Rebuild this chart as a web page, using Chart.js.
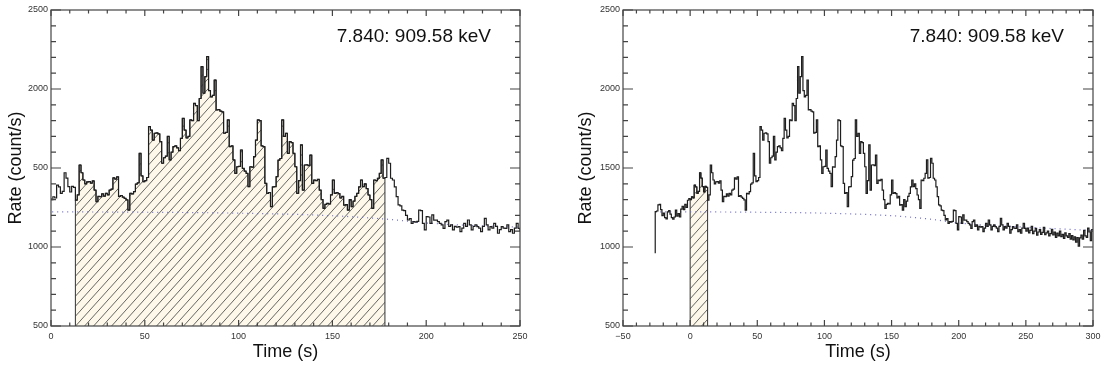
<!DOCTYPE html>
<html>
<head>
<meta charset="utf-8">
<title>Light curve 7.840: 909.58 keV</title>
<script src="https://cdn.jsdelivr.net/npm/chart.js@4.4.1/dist/chart.umd.min.js"></script>
<style>
  body { margin: 0; background: #fff; }
  .panel { position: absolute; top: 0; }
  #left { left: 0; }
  #right { left: 554px; }
</style>
</head>
<body>
<canvas id="left" class="panel" width="554" height="370"></canvas>
<canvas id="right" class="panel" width="554" height="370"></canvas>
<script>
// light curve, 1 s bins starting at t0 (values in count/s)
const t0 = -26;
const binWidth = 1;
const firstEdge = 960; // level where the curve starts at the first edge
const rate = [
  1224, 1228, 1266, 1270, 1236, 1198, 1214, 1186, 1178, 1222,
  1230, 1208, 1186, 1176, 1190, 1234, 1196, 1212, 1190, 1240,
  1258, 1236, 1270, 1250, 1296, 1306, 1300, 1318, 1310, 1392,
  1380, 1340, 1352, 1470, 1436, 1382, 1348, 1384, 1378, 1297,
  1330, 1519, 1470, 1424, 1400, 1412, 1414, 1404, 1418, 1360,
  1287, 1320, 1318, 1336, 1322, 1340, 1330, 1360, 1366, 1438,
  1430, 1444, 1320, 1326, 1316, 1308, 1298, 1234, 1340, 1336,
  1350, 1398, 1406, 1593, 1450, 1413, 1420, 1440, 1762, 1740,
  1677, 1720, 1722, 1716, 1667, 1530, 1565, 1575, 1700, 1551,
  1600, 1635, 1640, 1628, 1610, 1688, 1814, 1740, 1690, 1700,
  1804, 1800, 1909, 1895, 1800, 1940, 2141, 1973, 2078, 2205,
  1990, 1950, 1960, 2057, 1867, 1870, 1860, 1855, 1720, 1725,
  1804, 1635, 1640, 1551, 1466, 1508, 1510, 1614, 1497, 1480,
  1466, 1382, 1508, 1505, 1572, 1677, 1804, 1800, 1640, 1635,
  1403, 1340, 1345, 1255, 1380, 1382, 1445, 1550, 1560, 1804,
  1700, 1720, 1593, 1667, 1660, 1593, 1508, 1340, 1420, 1646,
  1360, 1519, 1520, 1515, 1582, 1403, 1424, 1420, 1428, 1360,
  1300, 1245, 1270, 1276, 1272, 1330, 1424, 1340, 1345, 1338,
  1310, 1320, 1265, 1268, 1234, 1300, 1255, 1290, 1320, 1340,
  1380, 1424, 1382, 1400, 1370, 1329, 1300, 1245, 1424, 1420,
  1435, 1466, 1551, 1435, 1440, 1561, 1530, 1435, 1424, 1380,
  1319, 1266, 1260, 1234, 1230, 1200, 1171, 1180, 1150, 1160,
  1158, 1162, 1234, 1230, 1150, 1108, 1192, 1190, 1150, 1203,
  1170, 1170, 1160, 1150, 1140, 1118, 1160, 1170, 1130, 1140,
  1108, 1130, 1125, 1129, 1097, 1120, 1150, 1130, 1171, 1140,
  1108, 1130, 1140, 1129, 1120, 1097, 1130, 1181, 1140, 1108,
  1129, 1120, 1150, 1130, 1087, 1110, 1129, 1120, 1118, 1140,
  1097, 1110, 1087, 1120, 1150, 1118, 1100, 1120, 1090, 1105,
  1130, 1085, 1100, 1118, 1075, 1095, 1110, 1080, 1092, 1125,
  1078, 1090, 1100, 1070, 1085, 1112, 1076, 1095, 1060, 1088,
  1070, 1100, 1066, 1080, 1055, 1090, 1070, 1060, 1085, 1050,
  1072, 1045, 1065, 1030, 1060, 1005, 1058, 1075, 1050, 1105,
  1070, 1060, 1120, 1095, 1040, 1110
];

// background model (dotted)
const bgTime = [-26, 0, 50, 100, 150, 180, 200, 250, 300];
const bgRate = [1222, 1222, 1220, 1214, 1198, 1175, 1152, 1125, 1105];

// hatched intervals (s)
const leftHatch = [13, 178];
const rightHatch = [0, 13];

// axes
const yTicks = [500, 1000, 1500, 2000, 2500];
const leftYLabels = ["500", "1000", "500", "2000", "2500"];
const rightYLabels = ["500", "1000", "1500", "2000", "2500"];
const leftXTicks = [0, 50, 100, 150, 200, 250];
const leftXLabels = ["0", "50", "100", "150", "200", "250"];
const rightXTicks = [-50, 0, 50, 100, 150, 200, 250, 300];
const rightXLabels = ["\u221250", "0", "50", "100", "150", "200", "250", "300"];

const lineLabel = "7.840: 909.58 keV";
const FONT = '"Liberation Sans", Arial, sans-serif';

function curvePoints() {
  const pts = [{ x: t0, y: firstEdge }];
  rate.forEach((r, i) => pts.push({ x: t0 + i * binWidth, y: r }));
  pts.push({ x: t0 + rate.length * binWidth, y: rate[rate.length - 1] });
  return pts;
}

function hatchPoints(range, floor) {
  const pts = [{ x: range[0], y: floor }];
  rate.forEach((r, i) => {
    const t = t0 + i * binWidth;
    if (t >= range[0] && t < range[1]) pts.push({ x: t, y: r });
  });
  pts.push({ x: range[1], y: floor });
  return pts;
}

function hatchPattern() {
  const c = document.createElement("canvas");
  c.width = 9; c.height = 10;
  const g = c.getContext("2d");
  g.fillStyle = "#fdf8ea";
  g.fillRect(0, 0, 9, 10);
  g.strokeStyle = "#555";
  g.lineWidth = 0.9;
  g.beginPath();
  g.moveTo(0, 10); g.lineTo(9, 0);
  g.moveTo(-9, 10); g.lineTo(0, 0);
  g.moveTo(9, 10); g.lineTo(18, 0);
  g.stroke();
  return g.createPattern(c, "repeat");
}

const frameTicks = {
  id: "frameTicks",
  afterDatasetsDraw(chart) {
    const { ctx, chartArea: a, scales: { x, y } } = chart;
    ctx.save();
    ctx.strokeStyle = "#444";
    ctx.lineWidth = 1.2;
    ctx.beginPath();
    for (let v = Math.ceil(x.min / 10) * 10; v <= x.max; v += 10) {
      const px = x.getPixelForValue(v);
      const len = v % 50 === 0 ? 6 : 3.5;
      ctx.moveTo(px, a.bottom); ctx.lineTo(px, a.bottom - len);
      ctx.moveTo(px, a.top); ctx.lineTo(px, a.top + len);
    }
    for (let v = y.min; v <= y.max; v += 100) {
      const py = y.getPixelForValue(v);
      const len = v % 500 === 0 ? 10 : 5;
      ctx.moveTo(a.left, py); ctx.lineTo(a.left + len, py);
      ctx.moveTo(a.right, py); ctx.lineTo(a.right - len, py);
    }
    ctx.stroke();
    ctx.strokeRect(a.left, a.top, a.right - a.left, a.bottom - a.top);
    ctx.fillStyle = "#111";
    ctx.font = "19px " + FONT;
    ctx.textAlign = "right";
    ctx.textBaseline = "middle";
    ctx.fillText(lineLabel, a.right - 29, a.top + 27);
    ctx.restore();
  }
};

function drawPanel(id, cfg) {
  const tickFont = { family: FONT, size: 9 };
  return new Chart(document.getElementById(id), {
    type: "line",
    data: {
      datasets: [
        { data: curvePoints(), borderColor: "#1e1e1e", borderWidth: 1.2, stepped: true, pointRadius: 0, fill: false },
        { data: bgTime.map((t, i) => ({ x: t, y: bgRate[i] })), borderColor: "#6a6ac8", borderWidth: 1.2,
          borderDash: [1, 4], cubicInterpolationMode: "monotone", pointRadius: 0, fill: false },
        { data: hatchPoints(cfg.hatch, yTicks[0]), borderColor: "#333", borderWidth: 1, stepped: true,
          pointRadius: 0, backgroundColor: hatchPattern(), fill: "start" }
      ]
    },
    options: {
      responsive: false,
      animation: false,
      events: [],
      layout: { padding: { left: cfg.padLeft, right: cfg.padRight, top: 10, bottom: 0 } },
      plugins: { legend: { display: false }, tooltip: { enabled: false } },
      scales: {
        x: {
          type: "linear",
          min: cfg.xTicks[0],
          max: cfg.xTicks[cfg.xTicks.length - 1],
          afterBuildTicks: s => { s.ticks = cfg.xTicks.map(v => ({ value: v })); },
          afterFit: s => { s.height = 44; },
          ticks: { callback: (v, i) => cfg.xLabels[i], font: tickFont, color: "#333", padding: 5, maxRotation: 0, autoSkip: false },
          grid: { display: false, drawTicks: false },
          border: { display: false },
          title: { display: true, text: "Time (s)", color: "#111", font: { family: FONT, size: 18 }, padding: { top: 0, bottom: 7 } }
        },
        y: {
          min: yTicks[0],
          max: yTicks[yTicks.length - 1],
          afterBuildTicks: s => { s.ticks = yTicks.map(v => ({ value: v })); },
          afterFit: s => { s.width = cfg.yWidth; },
          ticks: { callback: (v, i) => cfg.yLabels[i], font: tickFont, color: "#333", padding: 3, autoSkip: false },
          grid: { display: false, drawTicks: false },
          border: { display: false },
          title: { display: true, text: "Rate (count/s)", color: "#111", font: { family: FONT, size: 18 }, padding: { top: 5, bottom: 0 } }
        }
      }
    },
    plugins: [frameTicks]
  });
}

drawPanel("left", {
  xTicks: leftXTicks, xLabels: leftXLabels, yLabels: leftYLabels,
  hatch: leftHatch, padLeft: 0, yWidth: 51, padRight: 34
});
drawPanel("right", {
  xTicks: rightXTicks, xLabels: rightXLabels, yLabels: rightYLabels,
  hatch: rightHatch, padLeft: 16, yWidth: 53, padRight: 15
});
</script>
</body>
</html>
